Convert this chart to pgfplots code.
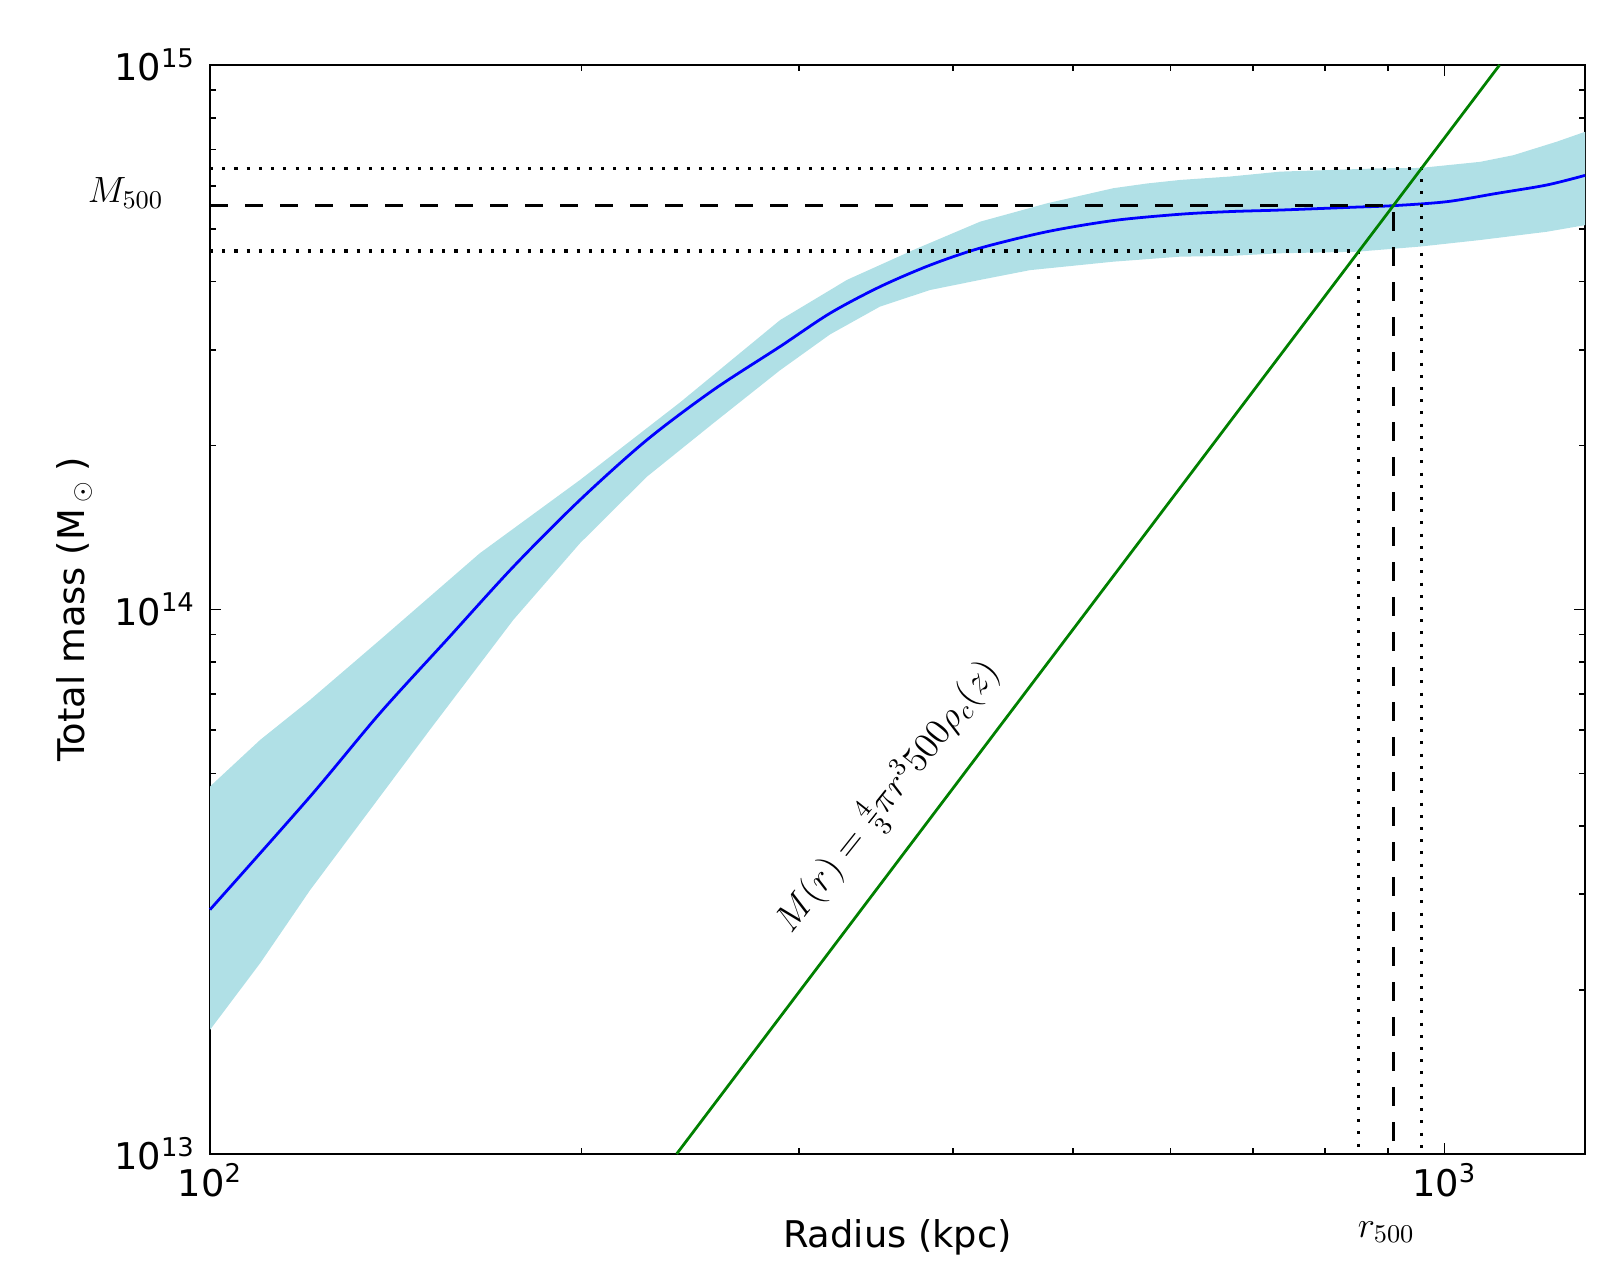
\RequirePackage{fix-cm}
\documentclass[border=0pt]{standalone}
\usepackage{amsmath}
\usepackage[no-math]{fontspec}
\setmainfont{DejaVu Sans}
\usepackage{pgfplots}
\pgfplotsset{compat=1.18}
\definecolor{band}{RGB}{176,224,230}
\definecolor{mplgreen}{RGB}{0,128,0}
\definecolor{mplblue}{RGB}{0,0,255}
\newcommand{\tfont}{\fontsize{13.3}{16}\selectfont}
\newcommand{\mfont}{\fontsize{13.2}{16}\selectfont}
\begin{document}
\begin{tikzpicture}
\begin{axis}[
  name=ax, at={(0,0)}, anchor=south west,
  scale only axis, width=495bp, height=392bp,
  xmode=log, ymode=log,
  xmin=100, xmax=1300, ymin=1e13, ymax=1e15,
  xtick={100,1000},
  xticklabels={10$^{\textrm{2}}$,10$^{\textrm{3}}$},
  ytick={1e13,1e14,1e15},
  yticklabels={10$^{\textrm{13}}$,10$^{\textrm{14}}$,10$^{\textrm{15}}$},
  minor xtick={200,300,400,500,600,700,800,900},
  minor ytick={2e13,3e13,4e13,5e13,6e13,7e13,8e13,9e13,2e14,3e14,4e14,5e14,6e14,7e14,8e14,9e14},
  tick align=inside,
  major tick length=4bp, minor tick length=2bp,
  every tick/.style={black, line width=0.6bp},
  axis line style={line width=1bp},
  ticklabel style={font=\tfont},
  yticklabel style={xshift=-1.8bp},
  clip=false,
]
% uncertainty band: upper edge, then lower edge reversed
\addplot[draw=none, fill=band] coordinates {
(100,4.73e13) (109.8,5.76e13) (120.5,6.82e13) (137.3,8.79e13) (165.4,1.268e14)
(199.4,1.729e14) (240.3,2.40e14) (289.6,3.40e14) (317.9,3.86e14) (328.1,4.03e14)
(371.5,4.575e14) (420.6,5.155e14) (476.3,5.57e14) (539.4,5.94e14) (574.7,6.06e14)
(610.8,6.15e14) (670.6,6.24e14) (736,6.37e14) (887,6.46e14) (955.7,6.47e14)
(1069,6.64e14) (1137.6,6.83e14) (1233,7.23e14) (1300,7.54e14)
(1300,5.08e14) (1210.5,4.94e14) (1069,4.77e14) (955.7,4.64e14) (849.2,4.54e14)
(736,4.51e14) (670.6,4.46e14) (610.8,4.446e14) (539.4,4.353e14) (461.7,4.20e14)
(420.6,4.03e14) (383.2,3.862e14) (349,3.60e14) (317.9,3.20e14) (289.6,2.75e14)
(255.7,2.198e14) (225.9,1.753e14) (199.4,1.323e14) (176.1,9.57e13) (150.7,6.01e13)
(120.5,3.05e13) (109.8,2.24e13) (100,1.69e13)
};
% mass profile
\addplot[mplblue, line width=1bp, smooth, tension=0.5] coordinates {
(100,2.81e13) (120.5,4.53e13) (137.3,6.45e13) (155.5,8.79e13) (176.1,1.198e14)
(199.4,1.589e14) (225.9,2.048e14) (255.7,2.53e14) (289.6,3.04e14) (317.9,3.50e14)
(349.0,3.916e14) (383.2,4.29e14) (420.6,4.61e14) (476.3,4.94e14) (539.4,5.18e14)
(610.8,5.32e14) (670.6,5.38e14) (736,5.415e14) (843.9,5.48e14) (909.3,5.516e14)
(1004.5,5.61e14) (1102.5,5.81e14) (1210.5,6.02e14) (1300,6.27e14)
};
% M500 / r500 dashed
\addplot[black, line width=1.1bp, dash pattern=on 6.6bp off 6bp] coordinates {
(100,5.516e14) (909,5.516e14) (909,1e13)
};
% dotted bounds
\addplot[black, line width=1.1bp, dash pattern=on 1.1bp off 3.3bp] coordinates {
(100,6.46e14) (958,6.46e14) (958,1e13)
};
\addplot[black, line width=1.1bp, dash pattern=on 1.1bp off 3.3bp] coordinates {
(100,4.554e14) (852,4.554e14) (852,1e13)
};
% M(r) = 4/3 pi r^3 500 rho_c
\addplot[mplgreen, line width=1bp] coordinates {
(238.8,1e13) (1108.5,1e15)
};
\node[rotate=51.5, font=\mfont] at (axis cs:354.9,4.52e13) {$M(r)=\frac{4}{3}\pi r^3 500\rho_c(z)$};
\node[anchor=base east, inner sep=0pt, xshift=-16.6bp, yshift=1bp, font=\mfont] at (axis cs:100,5.516e14) {$M_{500}$};
\node[anchor=base, inner sep=0pt, xshift=-2.5bp, yshift=-30bp, font=\mfont] at (axis cs:909,1e13) {$r_{500}$};
\node[rotate=90, font=\tfont] at (axis description cs:-0.0989,0.5) {Total mass (M\hspace{2.5bp}$_{\odot}$\hspace{3bp})};
\node[anchor=base, font=\tfont] at (axis description cs:0.5,-0.0863) {Radius (kpc)};
\end{axis}
\pgfresetboundingbox
\path ([shift={(-75.6bp,-38.16bp)}]ax.south west) rectangle ([shift={(504.72bp,415.44bp)}]ax.south west);
\end{tikzpicture}
\end{document}
